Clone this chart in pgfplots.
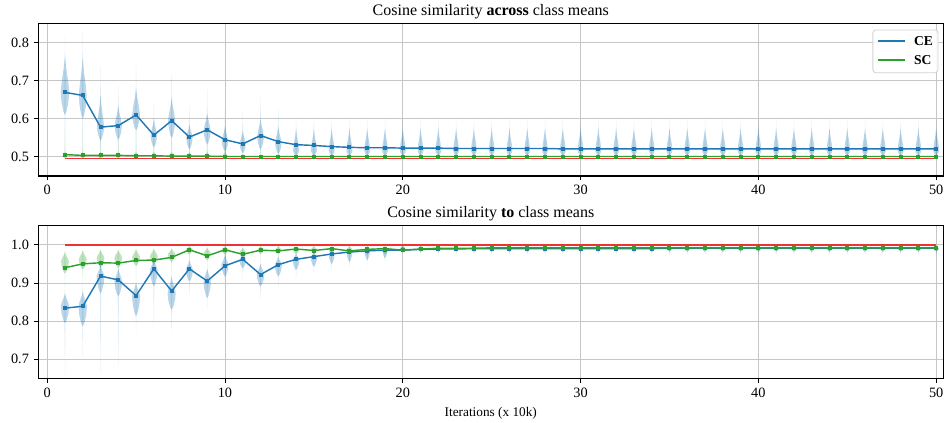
\documentclass[border=0pt]{standalone}
\usepackage{fontspec}
\setmainfont{Liberation Serif}
\usepackage{pgfplots}
\pgfplotsset{compat=1.18}
\definecolor{tabblue}{HTML}{1F77B4}
\definecolor{tabgreen}{HTML}{2CA02C}
\definecolor{tabred}{RGB}{240,50,50}

% violin: #1 x, #2 tail top, #3 body top, #4 widest, #5 body bottom, #6 tail bottom, #7 half width, #8 colour
\newcommand\vio[8]{%
 \pgfmathsetmacro\vxa{#1+0.3*#7}\pgfmathsetmacro\vxb{#1+0.75*#7}\pgfmathsetmacro\vxc{#1+#7}%
 \pgfmathsetmacro\vxd{#1+0.8*#7}\pgfmathsetmacro\vxe{#1+0.35*#7}%
 \pgfmathsetmacro\vxA{#1-0.3*#7}\pgfmathsetmacro\vxB{#1-0.75*#7}\pgfmathsetmacro\vxC{#1-#7}%
 \pgfmathsetmacro\vxD{#1-0.8*#7}\pgfmathsetmacro\vxE{#1-0.35*#7}%
 \pgfmathsetmacro\vya{#4+0.65*(#3-#4)}\pgfmathsetmacro\vyb{#4+0.3*(#3-#4)}%
 \pgfmathsetmacro\vyd{#4-0.45*(#4-#5)}\pgfmathsetmacro\vye{#4-0.85*(#4-#5)}%
 \pgfmathsetmacro\vtl{#1-0.04}\pgfmathsetmacro\vtr{#1+0.04}%
 \edef\vtmp{%
  \noexpand\addplot[forget plot,draw=none,fill=#8,fill opacity=0.15] coordinates {(#1,#2) (\vtr,#4) (#1,#6) (\vtl,#4)};
  \noexpand\addplot[forget plot,draw=none,fill=#8,fill opacity=0.3] coordinates {(#1,#3) (\vxa,\vya) (\vxb,\vyb) (\vxc,#4) (\vxd,\vyd) (\vxe,\vye) (#1,#5) (\vxE,\vye) (\vxD,\vyd) (\vxC,#4) (\vxB,\vyb) (\vxA,\vya)};}%
 \vtmp}

\pgfplotsset{myax/.style={
  width=633.5pt, height=106.9pt, scale only axis,
  xmin=-0.5, xmax=50.4, xtick={0,10,...,50},
  grid=major, major grid style={gray!45, line width=0.6pt},
  axis line style={line width=0.9pt},
  tick align=outside, tick pos=left, major tick length=3pt,
  tick style={black, line width=0.6pt},
  ticklabel style={font=\fontsize{10}{12}\selectfont},
  /pgf/number format/assume math mode=true,
  yticklabel style={/pgf/number format/fixed, /pgf/number format/fixed zerofill, /pgf/number format/precision=1},
  every axis title/.style={font=\fontsize{11.2}{13}\selectfont, at={(0.5,1)}, anchor=base, yshift=5.6pt, inner sep=0pt},
}}

\begin{document}
\begin{tikzpicture}
\useasboundingbox (-26.8pt,-172.9pt) rectangle (634.7pt,123.2pt);

% ---------------- top panel ----------------
\begin{axis}[myax, at={(0,0)}, anchor=south west,
  ymin=0.45, ymax=0.85, ytick={0.5,0.6,0.7,0.8},
  title={Cosine similarity \textbf{across} class means}]
% CE violins
\vio{1}{0.82}{0.765}{0.67}{0.61}{0.50}{0.24}{tabblue}
\vio{2}{0.83}{0.76}{0.66}{0.60}{0.50}{0.22}{tabblue}
\vio{3}{0.74}{0.66}{0.578}{0.543}{0.50}{0.2}{tabblue}
\vio{4}{0.69}{0.635}{0.582}{0.545}{0.50}{0.2}{tabblue}
\vio{5}{0.75}{0.68}{0.61}{0.57}{0.50}{0.22}{tabblue}
\vio{6}{0.65}{0.60}{0.555}{0.525}{0.50}{0.18}{tabblue}
\vio{7}{0.73}{0.655}{0.595}{0.55}{0.50}{0.2}{tabblue}
\vio{8}{0.64}{0.585}{0.55}{0.52}{0.50}{0.18}{tabblue}
\vio{9}{0.68}{0.615}{0.568}{0.533}{0.50}{0.2}{tabblue}
\vio{10}{0.63}{0.58}{0.54}{0.515}{0.50}{0.18}{tabblue}
\vio{11}{0.62}{0.57}{0.532}{0.51}{0.50}{0.17}{tabblue}
\vio{12}{0.66}{0.60}{0.553}{0.52}{0.50}{0.19}{tabblue}
\vio{13}{0.63}{0.58}{0.535}{0.508}{0.50}{0.18}{tabblue}
\pgfplotsinvokeforeach{14,...,50}{\vio{#1}{0.60}{0.575}{0.517}{0.504}{0.50}{0.17}{tabblue}}
% SC violins
\pgfplotsinvokeforeach{1,...,10}{\vio{#1}{0.58}{0.513}{0.503}{0.497}{0.495}{0.15}{tabgreen}}
\pgfplotsinvokeforeach{11,...,50}{\vio{#1}{0.53}{0.507}{0.501}{0.498}{0.496}{0.13}{tabgreen}}

\addplot[tabred, line width=1.2pt, forget plot] coordinates {(1,0.496) (50,0.496)};
\addplot[draw=tabblue, line width=1pt, mark=square*, mark size=0.9pt, mark options={fill=tabblue}, forget plot] coordinates {
(1,0.669)(2,0.661)(3,0.578)(4,0.582)(5,0.610)(6,0.557)(7,0.595)(8,0.552)(9,0.571)(10,0.545)
(11,0.534)(12,0.556)(13,0.540)(14,0.532)(15,0.530)(16,0.527)(17,0.525)(18,0.524)(19,0.524)(20,0.523)
(21,0.523)(22,0.523)(23,0.522)(24,0.522)(25,0.522)(26,0.522)(27,0.522)(28,0.522)(29,0.521)(30,0.521)
(31,0.521)(32,0.521)(33,0.521)(34,0.521)(35,0.521)(36,0.521)(37,0.521)(38,0.521)(39,0.521)(40,0.521)
(41,0.521)(42,0.521)(43,0.521)(44,0.521)(45,0.521)(46,0.521)(47,0.521)(48,0.521)(49,0.521)(50,0.521)};
\addplot[draw=tabgreen, line width=1pt, mark=square*, mark size=0.9pt, mark options={fill=tabgreen}, forget plot] coordinates {
(1,0.506)(2,0.504)(3,0.504)(4,0.504)(5,0.503)(6,0.503)(7,0.502)(8,0.502)(9,0.502)(10,0.501)
(11,0.501)(12,0.501)(13,0.501)(14,0.501)(15,0.501)(16,0.501)(17,0.501)(18,0.501)(19,0.501)(20,0.501)
(21,0.501)(22,0.501)(23,0.501)(24,0.501)(25,0.501)(26,0.501)(27,0.501)(28,0.501)(29,0.501)(30,0.501)
(31,0.501)(32,0.501)(33,0.501)(34,0.501)(35,0.501)(36,0.501)(37,0.501)(38,0.501)(39,0.501)(40,0.501)
(41,0.501)(42,0.501)(43,0.501)(44,0.501)(45,0.501)(46,0.501)(47,0.501)(48,0.501)(49,0.501)(50,0.501)};
% legend (drawn by hand)
\draw[draw=gray!35, line width=0.6pt, fill=white, fill opacity=0.9, rounded corners=2pt]
  (rel axis cs:0.9222,0.956) rectangle (rel axis cs:0.9941,0.6765);
\draw[tabblue, line width=1pt] (rel axis cs:0.9273,0.884) -- (rel axis cs:0.9577,0.884);
\draw[tabgreen, line width=1pt] (rel axis cs:0.9273,0.760) -- (rel axis cs:0.9577,0.760);
\node[anchor=west, inner sep=0pt, font=\fontsize{9.5}{11}\selectfont\bfseries] at (rel axis cs:0.9675,0.884) {CE};
\node[anchor=west, inner sep=0pt, font=\fontsize{9.5}{11}\selectfont\bfseries] at (rel axis cs:0.9675,0.760) {SC};
\end{axis}

% ---------------- bottom panel ----------------
\begin{axis}[myax, at={(0,-34.8pt)}, anchor=north west,
  ymin=0.65, ymax=1.05, ytick={0.7,0.8,0.9,1.0},
  title={Cosine similarity \textbf{to} class means},
  xlabel={Iterations (x 10k)},
  xlabel style={font=\fontsize{9.3}{11}\selectfont}]
% SC violins
\vio{1}{0.99}{0.982}{0.956}{0.925}{0.89}{0.22}{tabgreen}
\vio{2}{0.99}{0.985}{0.962}{0.935}{0.90}{0.22}{tabgreen}
\vio{3}{0.99}{0.987}{0.966}{0.940}{0.91}{0.22}{tabgreen}
\vio{4}{0.99}{0.987}{0.966}{0.940}{0.91}{0.22}{tabgreen}
\vio{5}{0.995}{0.988}{0.968}{0.945}{0.91}{0.22}{tabgreen}
\vio{6}{0.995}{0.990}{0.970}{0.948}{0.92}{0.22}{tabgreen}
\vio{7}{0.995}{0.990}{0.975}{0.955}{0.92}{0.21}{tabgreen}
\vio{8}{1.0}{0.997}{0.988}{0.975}{0.95}{0.19}{tabgreen}
\vio{9}{0.998}{0.993}{0.978}{0.960}{0.94}{0.2}{tabgreen}
\vio{10}{1.0}{0.997}{0.988}{0.975}{0.95}{0.19}{tabgreen}
\vio{11}{0.998}{0.993}{0.980}{0.965}{0.95}{0.19}{tabgreen}
\pgfplotsinvokeforeach{12,...,19}{\vio{#1}{1.0}{0.997}{0.988}{0.976}{0.96}{0.17}{tabgreen}}
\pgfplotsinvokeforeach{20,...,50}{\vio{#1}{1.0}{0.998}{0.992}{0.985}{0.975}{0.14}{tabgreen}}
% CE violins
\vio{1}{0.90}{0.873}{0.839}{0.795}{0.656}{0.24}{tabblue}
\vio{2}{0.90}{0.878}{0.839}{0.786}{0.708}{0.24}{tabblue}
\vio{3}{0.96}{0.947}{0.917}{0.873}{0.66}{0.22}{tabblue}
\vio{4}{0.95}{0.938}{0.904}{0.865}{0.67}{0.22}{tabblue}
\vio{5}{0.925}{0.900}{0.865}{0.813}{0.769}{0.23}{tabblue}
\vio{6}{0.97}{0.960}{0.934}{0.891}{0.77}{0.22}{tabblue}
\vio{7}{0.93}{0.917}{0.873}{0.830}{0.76}{0.23}{tabblue}
\vio{8}{0.97}{0.960}{0.934}{0.904}{0.865}{0.2}{tabblue}
\vio{9}{0.95}{0.938}{0.904}{0.860}{0.830}{0.21}{tabblue}
\vio{10}{0.98}{0.973}{0.947}{0.917}{0.89}{0.2}{tabblue}
\vio{11}{0.985}{0.977}{0.960}{0.938}{0.91}{0.19}{tabblue}
\vio{12}{0.965}{0.951}{0.921}{0.891}{0.857}{0.21}{tabblue}
\vio{13}{0.975}{0.969}{0.947}{0.917}{0.89}{0.2}{tabblue}
\vio{14}{0.985}{0.977}{0.960}{0.934}{0.91}{0.19}{tabblue}
\vio{15}{0.99}{0.982}{0.967}{0.943}{0.92}{0.18}{tabblue}
\vio{16}{0.99}{0.985}{0.975}{0.950}{0.93}{0.17}{tabblue}
\vio{17}{0.995}{0.987}{0.980}{0.955}{0.94}{0.16}{tabblue}
\vio{18}{0.995}{0.990}{0.984}{0.960}{0.945}{0.16}{tabblue}
\vio{19}{0.998}{0.992}{0.987}{0.965}{0.95}{0.15}{tabblue}
\pgfplotsinvokeforeach{20,...,50}{\vio{#1}{1.0}{0.996}{0.990}{0.982}{0.975}{0.15}{tabblue}}

\addplot[tabred, line width=1.2pt] coordinates {(1,1.0) (50,1.0)};
\addplot[draw=tabblue, line width=1pt, mark=square*, mark size=0.9pt, mark options={fill=tabblue}] coordinates {
(1,0.834)(2,0.839)(3,0.918)(4,0.908)(5,0.867)(6,0.937)(7,0.879)(8,0.937)(9,0.905)(10,0.945)
(11,0.962)(12,0.922)(13,0.948)(14,0.962)(15,0.969)(16,0.976)(17,0.981)(18,0.984)(19,0.986)(20,0.986)
(21,0.988)(22,0.989)(23,0.989)(24,0.990)(25,0.990)(26,0.990)(27,0.990)(28,0.990)(29,0.990)(30,0.990)
(31,0.990)(32,0.990)(33,0.990)(34,0.990)(35,0.991)(36,0.991)(37,0.991)(38,0.991)(39,0.991)(40,0.991)
(41,0.991)(42,0.991)(43,0.991)(44,0.991)(45,0.991)(46,0.991)(47,0.991)(48,0.991)(49,0.991)(50,0.991)};
\addplot[draw=tabgreen, line width=1pt, mark=square*, mark size=0.9pt, mark options={fill=tabgreen}] coordinates {
(1,0.940)(2,0.950)(3,0.953)(4,0.952)(5,0.959)(6,0.960)(7,0.967)(8,0.987)(9,0.971)(10,0.987)
(11,0.975)(12,0.986)(13,0.984)(14,0.989)(15,0.985)(16,0.990)(17,0.984)(18,0.988)(19,0.990)(20,0.986)
(21,0.989)(22,0.991)(23,0.991)(24,0.991)(25,0.992)(26,0.992)(27,0.992)(28,0.992)(29,0.992)(30,0.992)
(31,0.992)(32,0.992)(33,0.992)(34,0.992)(35,0.992)(36,0.992)(37,0.992)(38,0.992)(39,0.992)(40,0.992)
(41,0.992)(42,0.992)(43,0.992)(44,0.992)(45,0.992)(46,0.992)(47,0.992)(48,0.992)(49,0.992)(50,0.992)};
\end{axis}
\end{tikzpicture}
\end{document}
